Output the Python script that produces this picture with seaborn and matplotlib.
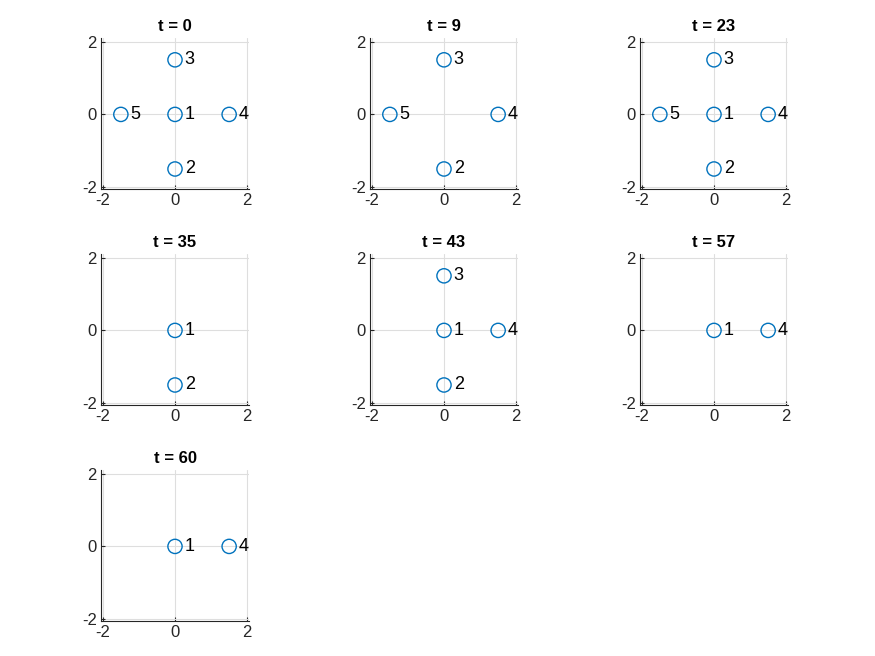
import matplotlib
matplotlib.use("Agg")
import matplotlib.pyplot as plt
import seaborn as sns
import pandas as pd

sns.set_style("white")
plt.rcParams['font.family'] = ['Liberation Sans', 'DejaVu Sans']
plt.rcParams['axes.unicode_minus'] = False

times = [0, 9, 23, 35, 43, 57, 60]
node_ids = [1, 2, 3, 4, 5]
node_x = [0.0, 0.0, 0.0, 1.5, -1.5]
node_y = [0.0, -1.5, 1.5, 0.0, 0.0]
present = [
    [1, 2, 3, 4, 5],
    [2, 3, 4, 5],
    [1, 2, 3, 4, 5],
    [1, 2],
    [1, 2, 3, 4],
    [1, 4],
    [1, 4],
]
ticks = [-2, 0, 2]

fig = plt.figure(figsize=(8.75, 6.56), dpi=100)
W, H = 875, 656
lefts = [101, 370, 640]
tops = [38, 254, 470]
aw, ah = 148, 151

for k, (t, ids) in enumerate(zip(times, present)):
    r, c = divmod(k, 3)
    ax = fig.add_axes([lefts[c] / W, 1 - (tops[r] + ah) / H, aw / W, ah / H])
    df = pd.DataFrame({
        "id": ids,
        "x": [node_x[node_ids.index(i)] for i in ids],
        "y": [node_y[node_ids.index(i)] for i in ids],
    })
    sns.scatterplot(data=df, x="x", y="y", ax=ax, s=105, marker="o",
                    facecolors="none", edgecolor="#0072BD", linewidth=1.0,
                    zorder=3, legend=False)
    for _, row in df.iterrows():
        ax.text(row["x"] + 0.27, row["y"], str(int(row["id"])), fontsize=13,
                va="center", ha="left", color="black")
    ax.set_xlim(-2.05, 2.05)
    ax.set_ylim(-2.05, 2.1)
    ax.set_xticks(ticks)
    ax.set_yticks(ticks)
    ax.set_xlabel("")
    ax.set_ylabel("")
    ax.grid(True, color="#dedede", linewidth=0.8)
    ax.set_axisbelow(True)
    for s in ["top", "right"]:
        ax.spines[s].set_visible(False)
    for s in ["left", "bottom"]:
        ax.spines[s].set_color("#262626")
        ax.spines[s].set_linewidth(0.8)
    ax.tick_params(direction="in", length=3, labelsize=12, colors="#262626",
                   labelcolor="#262626", pad=3, bottom=True, left=True)
    ax.set_title(f"t = {t}", fontsize=12, fontweight="bold", pad=5, color="black")

fig.savefig("out.png", dpi=100)
